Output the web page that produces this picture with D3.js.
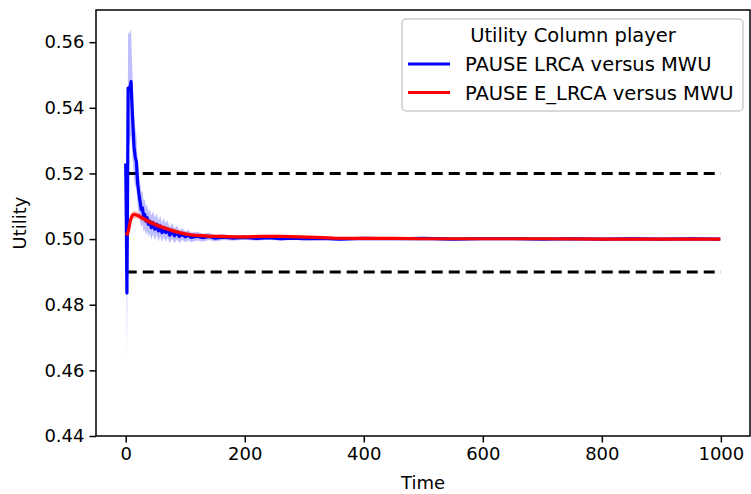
<!DOCTYPE html>
<html>
<head>
<meta charset="utf-8">
<script src="https://cdn.jsdelivr.net/npm/d3@7"></script>
<style>
  body { margin: 0; background: #fff; }
  text { font-family: "DejaVu Sans", sans-serif; }
</style>
</head>
<body>
<div id="chart"></div>
<script>
// data
const blueTime = [0,1,2,3,4,6,8,9,10,12,14,16,18,20,22,24,26,28,30,32,34,36,38,40,43,46,49,52,55,58,61,64,67,70,74,78,82,86,90,95,100,105,110,120,130,140,150,165,180,200,220,240,260,280,300,330,360,400,450,500,550,600,650,700,750,800,850,900,950,999];
const blueMean = [0.523,0.505,0.4836,0.51,0.546,0.5455,0.547,0.548,0.543,0.535,0.528,0.525,0.5235,0.517,0.514,0.5115,0.509,0.5095,0.507,0.5075,0.5055,0.5065,0.5045,0.5055,0.5035,0.505,0.503,0.5045,0.5025,0.504,0.502,0.5035,0.502,0.503,0.5012,0.5025,0.501,0.502,0.5008,0.5015,0.5007,0.5012,0.5005,0.5009,0.5004,0.5008,0.5003,0.5006,0.5003,0.5005,0.5002,0.5004,0.5001,0.5003,0.5001,0.5002,0.5,0.5002,0.5001,0.5002,0.5,0.5001,0.5001,0.5,0.5001,0.5,0.5001,0.5,0.5001,0.5];
const blueSpread = [0.001,0.01,0.020,0.015,0.017,0.017,0.0165,0.016,0.014,0.012,
  0.010,0.009,0.008,0.007,0.0065,0.006,0.0055,0.005,0.0048,0.0045,
  0.0043,0.004,0.0038,0.0037,0.0036,0.0035,0.0034,0.0033,0.0032,0.0031,
  0.003,0.0029,0.0028,0.0027,0.0025,0.0024,0.0022,0.0021,0.002,0.0018,
  0.0017,0.0016,0.0015,0.0013,0.0012,0.0011,0.001,0.0009,0.0008,0.0007,
  0.0007,0.0006,0.0006,0.0006,0.0005,0.0005,0.0005,0.0004,0.0004,0.0004,
  0.0004,0.0003,0.0003,0.0003,0.0003,0.0003,0.0003,0.0003,0.0003,0.0003];

const redTime = [0,3,5,8,11,14,17,20,25,30,35,40,45,50,60,70,80,90,100,110,120,140,160,180,200,230,260,290,320,350,400,450,500,600,700,800,900,999];
const redMean = [0.5018,0.5015,0.503,0.5058,0.5072,0.5075,0.5074,0.5072,0.5067,0.5062,
  0.5057,0.5052,0.5048,0.5044,0.5037,0.5031,0.5025,0.502,0.5016,0.5013,
  0.5011,0.5009,0.5008,0.5007,0.5007,0.5008,0.5008,0.5007,0.5005,0.5003,
  0.5002,0.5002,0.5001,0.5001,0.5001,0.5,0.5,0.5];
const redSpread = [0.0005,0.0005,0.0008,0.001,0.0011,0.0011,0.0011,0.001,0.001,0.001,
  0.0009,0.0009,0.0009,0.0008,0.0008,0.0007,0.0007,0.0006,0.0006,0.0005,
  0.0005,0.0005,0.0004,0.0004,0.0004,0.0004,0.0004,0.0004,0.0003,0.0003,
  0.0003,0.0002,0.0002,0.0002,0.0002,0.0002,0.0002,0.0002];

const boundLevels = [0.52, 0.49];
const xTicks = [0, 200, 400, 600, 800, 1000];
const yTicks = [0.44, 0.46, 0.48, 0.50, 0.52, 0.54, 0.56];
const seriesNames = ['PAUSE LRCA versus MWU', 'PAUSE E_LRCA versus MWU'];
const seriesColors = ['#0000ff', '#ff0000'];
const legendTitle = 'Utility Column player';

const W = 751, H = 494;
const margin = {top: 10, right: 1, bottom: 58, left: 96};
const width = W - margin.left - margin.right;
const height = H - margin.top - margin.bottom;

const svg = d3.select('#chart').append('svg')
    .attr('width', W).attr('height', H);
const g = svg.append('g').attr('transform', `translate(${margin.left},${margin.top})`);

const x = d3.scaleLinear().domain([-49.95, 1048.95]).range([0, width]);
const y = d3.scaleLinear().domain([0.44, 0.5698]).range([height, 0]);

const toRows = (t, m, s) => t.map((d, i) => ({t: d, m: m[i], s: s[i]}));
const series = [toRows(blueTime, blueMean, blueSpread), toRows(redTime, redMean, redSpread)];

const area = d3.area().x(d => x(d.t)).y0(d => y(d.m - d.s)).y1(d => y(d.m + d.s));
const line = d3.line().x(d => x(d.t)).y(d => y(d.m));

// dashed bounds
boundLevels.forEach(v => {
    g.append('line')
        .attr('x1', x(0)).attr('x2', x(1000))
        .attr('y1', y(v)).attr('y2', y(v))
        .attr('stroke', '#000').attr('stroke-width', 3)
        .attr('stroke-dasharray', '11,6');
});

series.forEach((rows, i) => {
    g.append('path').datum(rows)
        .attr('d', area)
        .attr('fill', seriesColors[i])
        .attr('fill-opacity', 0.25);
    g.append('path').datum(rows)
        .attr('d', line)
        .attr('fill', 'none')
        .attr('stroke', seriesColors[i])
        .attr('stroke-width', 3.2)
        .attr('stroke-linejoin', 'round');
});

// axes
const xAxis = g.append('g').attr('transform', `translate(0,${height})`)
    .call(d3.axisBottom(x).tickValues(xTicks).tickFormat(d3.format('d')).tickSize(6.5).tickPadding(5).tickSizeOuter(0));
const yAxis = g.append('g')
    .call(d3.axisLeft(y).tickValues(yTicks).tickFormat(d3.format('.2f')).tickSize(6.5).tickPadding(5).tickSizeOuter(0));
[xAxis, yAxis].forEach(a => {
    a.selectAll('text').attr('font-size', 18).attr('fill', '#000').attr('font-family', 'DejaVu Sans');
    a.selectAll('line').attr('stroke', '#000').attr('stroke-width', 1.5);
    a.select('.domain').remove();
});

// frame
g.append('rect').attr('x', 0).attr('y', 0).attr('width', width).attr('height', height)
    .attr('fill', 'none').attr('stroke', '#000').attr('stroke-width', 1.5);

// axis labels
svg.append('text').attr('x', margin.left + width / 2).attr('y', 489)
    .attr('text-anchor', 'middle').attr('font-size', 18).text('Time');
svg.append('text').attr('transform', `translate(26,${margin.top + height / 2}) rotate(-90)`)
    .attr('text-anchor', 'middle').attr('font-size', 18).text('Utility');

// legend
const lg = svg.append('g');
lg.append('rect').attr('x', 402).attr('y', 19).attr('width', 341).attr('height', 92)
    .attr('rx', 4).attr('fill', '#fff').attr('fill-opacity', 0.8)
    .attr('stroke', '#cccccc').attr('stroke-width', 1.5);
lg.append('text').attr('x', 573).attr('y', 42).attr('text-anchor', 'middle')
    .attr('font-size', 19.5).text(legendTitle);
seriesNames.forEach((name, i) => {
    const yy = 64 + i * 28.5;
    lg.append('line').attr('x1', 408).attr('x2', 450).attr('y1', yy).attr('y2', yy)
        .attr('stroke', seriesColors[i]).attr('stroke-width', 3);
    lg.append('text').attr('x', 465).attr('y', yy + 7).attr('font-size', 19.5).text(name);
});
</script>
</body>
</html>
